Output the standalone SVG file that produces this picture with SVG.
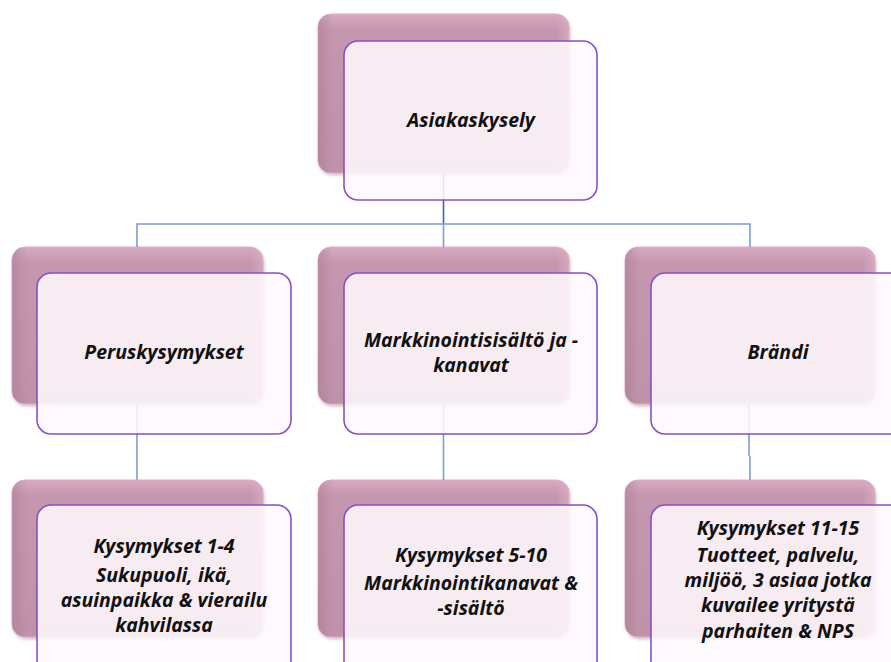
<svg xmlns="http://www.w3.org/2000/svg" width="891" height="662" viewBox="0 0 891 662">
<defs>
<linearGradient id="backGrad" x1="0" y1="0" x2="0" y2="1">
<stop offset="0" stop-color="#d8a9c2"/>
<stop offset="0.1" stop-color="#c597ae"/>
<stop offset="1" stop-color="#bf92a9"/>
</linearGradient>
<linearGradient id="backSide" x1="0" y1="0" x2="1" y2="0">
<stop offset="0" stop-color="#a97a92" stop-opacity="0.5"/>
<stop offset="0.06" stop-color="#a97a92" stop-opacity="0"/>
<stop offset="0.95" stop-color="#e0b2ca" stop-opacity="0"/>
<stop offset="1" stop-color="#e0b2ca" stop-opacity="0.6"/>
</linearGradient>
<filter id="sh" x="-5%" y="-5%" width="115%" height="115%">
<feDropShadow dx="1" dy="2" stdDeviation="1.5" flood-color="#7a5068" flood-opacity="0.35"/>
</filter>
</defs>
<style>
.back{fill:url(#backGrad);stroke:#dcb0c7;stroke-width:1}
.side{fill:url(#backSide)}
.front{fill:#fdf8fc;fill-opacity:0.88;stroke:#8a4fc6;stroke-width:1.6}
.conn{fill:none;stroke:#7d9bd3;stroke-width:1.6}
.stem{fill:none;stroke:#3f5fae;stroke-width:1.6}
text{font-family:"Open Sans","Liberation Sans",sans-serif;font-weight:bold;font-style:italic;font-size:19.5px;fill:#111;text-anchor:middle}
</style>

<g id="back-layer">
<g filter="url(#sh)">
<rect class="back" x="318" y="14" width="251" height="159" rx="13"/>
<rect class="back" x="12" y="247" width="251" height="157" rx="13"/>
<rect class="back" x="318" y="247" width="251" height="157" rx="13"/>
<rect class="back" x="625" y="247" width="250" height="157" rx="13"/>
<rect class="back" x="12" y="480" width="251" height="157" rx="13"/>
<rect class="back" x="318" y="480" width="251" height="157" rx="13"/>
<rect class="back" x="625" y="480" width="250" height="157" rx="13"/>
</g>
<rect class="side" x="318" y="14" width="251" height="159" rx="13"/>
<rect class="side" x="12" y="247" width="251" height="157" rx="13"/>
<rect class="side" x="318" y="247" width="251" height="157" rx="13"/>
<rect class="side" x="625" y="247" width="250" height="157" rx="13"/>
<rect class="side" x="12" y="480" width="251" height="157" rx="13"/>
<rect class="side" x="318" y="480" width="251" height="157" rx="13"/>
<rect class="side" x="625" y="480" width="250" height="157" rx="13"/>
</g>

<g id="connectors">
<path class="stem" d="M443.5,173 V224"/>
<path class="conn" d="M137,247 V224 H750 V247 M443.5,224 V247"/>
<path class="conn" d="M137,404 V480 M443.5,404 V480 M749,404 V455 L750,457 V480"/>
</g>

<g id="asiakaskysely">
<rect class="front" x="344" y="41" width="253" height="159" rx="14"/>
<text x="471" y="127">Asiakaskysely</text>
</g>

<g id="peruskysymykset">
<rect class="front" x="37" y="273" width="254" height="161" rx="14"/>
<text x="164" y="359">Peruskysymykset</text>
</g>

<g id="markkinointi">
<rect class="front" x="344" y="273" width="253" height="161" rx="14"/>
<text x="471" y="347">Markkinointisisältö ja -</text>
<text x="471" y="372">kanavat</text>
</g>

<g id="brandi">
<rect class="front" x="651" y="273" width="254" height="161" rx="14"/>
<text x="778" y="359">Brändi</text>
</g>

<g id="kysymykset-1-4">
<rect class="front" x="37" y="505" width="254" height="175" rx="14"/>
<text x="164" y="553">Kysymykset 1-4</text>
<text x="164" y="582">Sukupuoli, ikä,</text>
<text x="164" y="607">asuinpaikka &amp; vierailu</text>
<text x="164" y="632">kahvilassa</text>
</g>

<g id="kysymykset-5-10">
<rect class="front" x="344" y="505" width="253" height="175" rx="14"/>
<text x="471" y="562">Kysymykset 5-10</text>
<text x="471" y="590">Markkinointikanavat &amp;</text>
<text x="471" y="615">-sisältö</text>
</g>

<g id="kysymykset-11-15">
<rect class="front" x="651" y="505" width="254" height="175" rx="14"/>
<text x="778" y="535">Kysymykset 11-15</text>
<text x="778" y="562">Tuotteet, palvelu,</text>
<text x="778" y="587">miljöö, 3 asiaa jotka</text>
<text x="778" y="612">kuvailee yritystä</text>
<text x="778" y="638">parhaiten &amp; NPS</text>
</g>
</svg>
